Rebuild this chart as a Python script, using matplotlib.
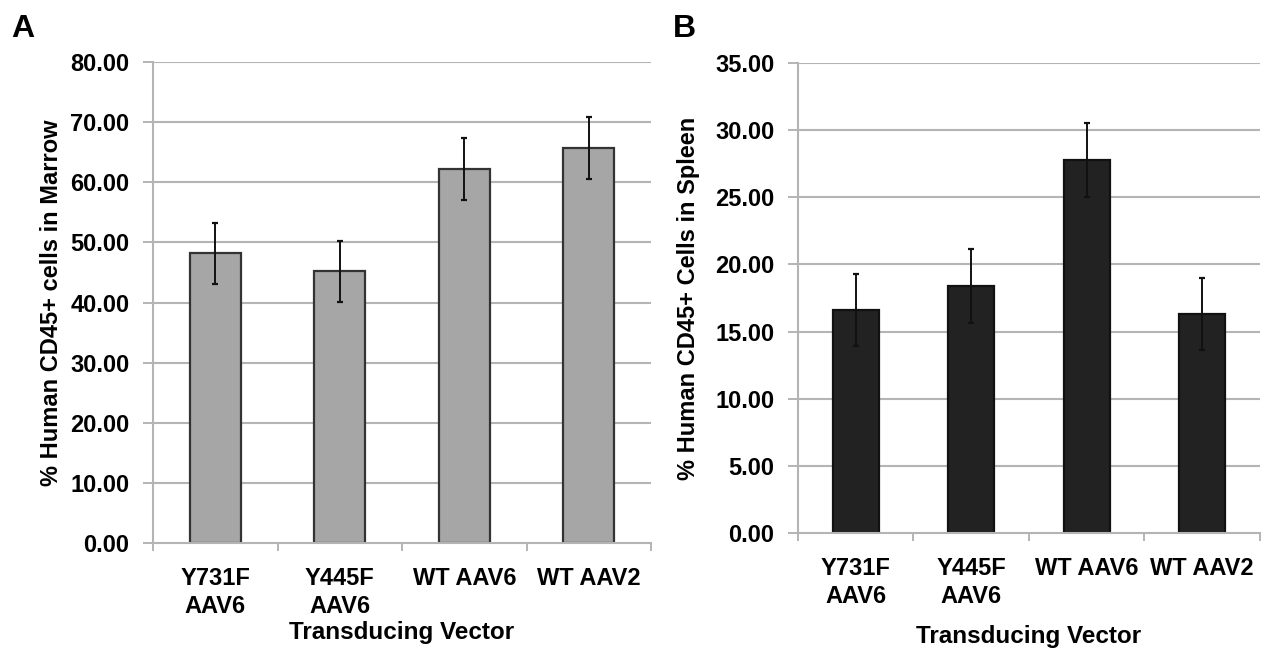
import matplotlib
matplotlib.use("Agg")
import matplotlib.pyplot as plt
import numpy as np

plt.rcParams['font.family'] = ['Liberation Sans', 'DejaVu Sans']
plt.rcParams['font.weight'] = 'bold'

categories = ["Y731F\nAAV6", "Y445F\nAAV6", "WT AAV6", "WT AAV2"]
marrow_vals = [48.2, 45.2, 62.2, 65.7]
marrow_err = [5.1, 5.1, 5.2, 5.2]
spleen_vals = [16.6, 18.4, 27.8, 16.3]
spleen_err = [2.7, 2.75, 2.75, 2.7]
marrow_ticks = [0, 10, 20, 30, 40, 50, 60, 70, 80]
spleen_ticks = [0, 5, 10, 15, 20, 25, 30, 35]

fig = plt.figure(figsize=(12.69, 6.54), dpi=100)
axA = fig.add_axes([0.1206, 0.1697, 0.3924, 0.7355])
axB = fig.add_axes([0.6288, 0.185, 0.3640, 0.7187])

grid_c = '#b4b4b4'

def style(ax, vals, errs, ticks, color, edge, width, ylabel, labelpad_x, labelpad_y):
    x = np.arange(len(categories))
    ax.set_axisbelow(True)
    for t in ticks[1:]:
        ax.axhline(t, color=grid_c, lw=1.5, zorder=0)
    ax.bar(x, vals, width=width, color=color, edgecolor=edge, linewidth=1.6, zorder=2)
    ax.errorbar(x, vals, yerr=errs, fmt='none', ecolor='#111111', elinewidth=1.4,
                capsize=2.5, capthick=1.6, zorder=3)
    ax.set_xlim(-0.5, len(categories) - 0.5)
    ax.set_ylim(0, ticks[-1])
    ax.set_yticks(ticks)
    ax.set_yticklabels([f"{t:.2f}" for t in ticks], fontsize=17, fontweight='bold')
    ax.set_xticks(x)
    ax.set_xticklabels(categories, fontsize=17, fontweight='bold', linespacing=1.3)
    ax.set_xticks(np.arange(len(categories) + 1) - 0.5, minor=True)
    ax.tick_params(axis='x', which='major', length=0, pad=17)
    ax.tick_params(axis='x', which='minor', length=6, width=1.4, color=grid_c)
    ax.tick_params(axis='y', length=7, width=1.4, color=grid_c, pad=10)
    for s in ['top', 'right']:
        ax.spines[s].set_visible(False)
    for s in ['left', 'bottom']:
        ax.spines[s].set_color(grid_c)
        ax.spines[s].set_linewidth(1.5)
    ax.set_ylabel(ylabel, fontsize=17, fontweight='bold', labelpad=labelpad_y)
    ax.set_xlabel("Transducing Vector", fontsize=17.5, fontweight='bold', labelpad=labelpad_x)

style(axA, marrow_vals, marrow_err, marrow_ticks, '#a6a6a6', '#333333', 0.41,
      "% Human CD45+ cells in Marrow", 2, 5)
style(axB, spleen_vals, spleen_err, spleen_ticks, '#222222', '#111111', 0.40,
      "% Human CD45+ Cells in Spleen", 12, 11)

fig.text(0.009, 0.943, "A", fontsize=23, fontweight='bold', va='baseline')
fig.text(0.530, 0.943, "B", fontsize=23, fontweight='bold', va='baseline')

fig.savefig("out.png", dpi=100)
